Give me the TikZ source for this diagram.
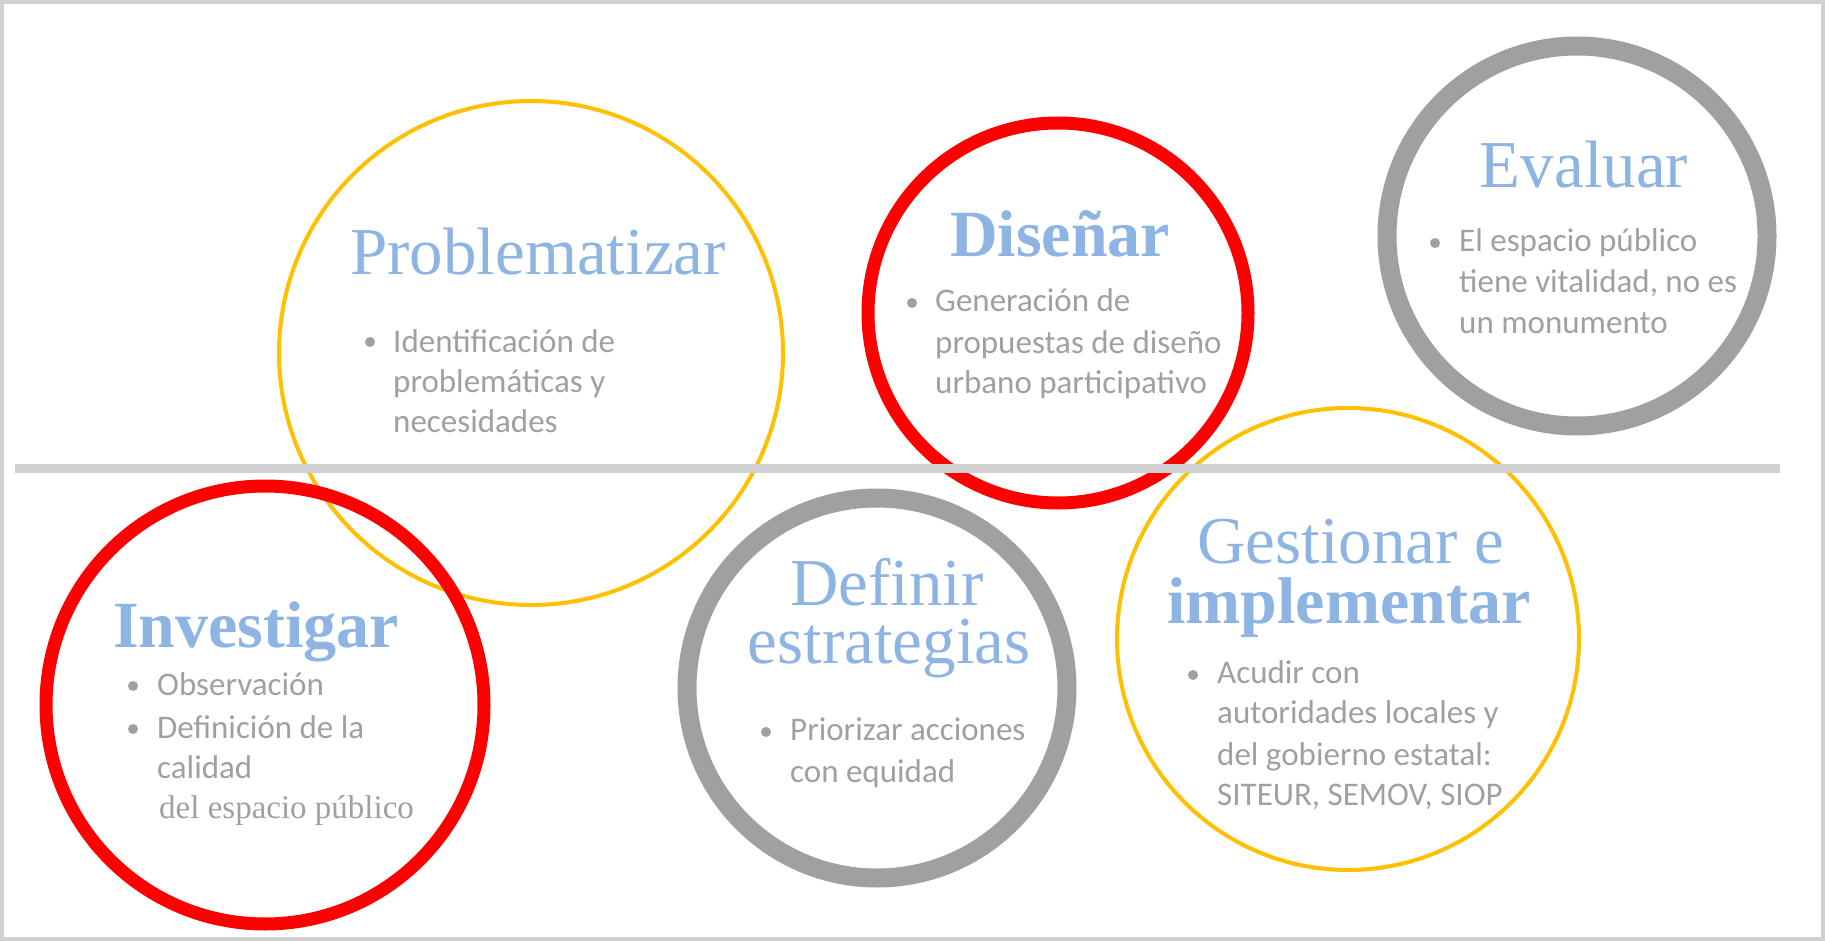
\documentclass[tikz,border=0pt]{standalone}
\usepackage{fontspec}
\setmainfont{Liberation Serif}
\newfontfamily\calfont{Carlito}
\definecolor{tblue}{HTML}{8EB4E3}
\definecolor{tgray}{HTML}{A0A0A0}
\definecolor{ringgray}{HTML}{A0A0A0}
\definecolor{lgray}{HTML}{D0D0D0}
\definecolor{ryellow}{HTML}{FFC000}
\definecolor{rred}{HTML}{FF0000}
\tikzset{
  ring/.style={circle, draw, inner sep=0pt, minimum size=#1},
  thinring/.style={ring=#1, draw=ryellow, line width=4pt},
  redring/.style={ring=#1, draw=rred, line width=13pt},
  grayring/.style={ring=#1, draw=ringgray, line width=19pt},
  ttl/.style={anchor=base, inner sep=0pt, text=tblue, font=\fontsize{67}{80}\selectfont},
  ttlb/.style={anchor=base, inner sep=0pt, text=tblue, font=\bfseries\fontsize{66}{80}\selectfont},
  itm/.style={anchor=base west, inner sep=0pt, text=tgray, font=\calfont\fontsize{33}{39}\selectfont},
  itmserif/.style={anchor=base west, inner sep=0pt, text=tgray, font=\fontsize{33}{39}\selectfont},
  dot/.style={circle, fill=tgray, inner sep=0pt, minimum size=10pt}
}
\begin{document}
\begin{tikzpicture}[x=1pt, y=-1pt]
\useasboundingbox (0,0) rectangle (1825,941);
\fill[white] (0,0) rectangle (1825,941);
\draw[lgray, line width=4pt] (2,2) rectangle (1823,939);

% rings
\node[thinring=504pt] (prob) at (531,353) {};
\node[redring=380pt] (dis) at (1058,313) {};
\node[grayring=380pt] (eva) at (1577,236) {};
\node[redring=438pt] (inv) at (265,705) {};
\node[grayring=380pt] (def) at (877,688) {};
\node[thinring=462pt] (ges) at (1348,639) {};

% divider line
\coordinate (lineL) at (15,468);
\coordinate (lineR) at (1780,468);
\draw[lgray, line width=9pt] (lineL) -- (lineR);

% Problematizar
\node[ttl] (probT) at (538,275) {Problematizar};
\node[dot] (probD) at (370,342) {};
\node[itm] (probA) at (393,352) {Identificación de};
\node[itm] (probB) at (393,392) {problemáticas y};
\node[itm] (probC) at (393,432) {necesidades};

% Diseñar
\node[ttlb] (disT) at (1060,257) {Diseñar};
\node[dot] (disD) at (912,303) {};
\node[itm] (disA) at (935,312) {Generación de};
\node[itm] (disB) at (935,353) {propuestas de diseño};
\node[itm] (disC) at (935,393) {urbano participativo};

% Evaluar
\node[ttl] (evaT) at (1584,188) {Evaluar};
\node[dot] (evaD) at (1435,243) {};
\node[itm] (evaA) at (1459,252) {El espacio público};
\node[itm] (evaB) at (1459,293) {tiene vitalidad, no es};
\node[itm] (evaC) at (1459,333) {un monumento};

% Investigar
\node[ttlb] (invT) at (256,647) {Investigar};
\node[dot] (invD1) at (133,686) {};
\node[itm] (invA) at (157,695) {Observación};
\node[dot] (invD2) at (133,729) {};
\node[itm] (invB) at (157,738) {Definición de la};
\node[itm] (invC) at (157,778) {calidad};
\node[itmserif] (invE) at (159,818) {del espacio público};

% Definir estrategias
\node[ttl] (defT1) at (887,605) {Definir};
\node[ttl] (defT2) at (889,663) {estrategias};
\node[dot] (defD) at (766,732) {};
\node[itm] (defA) at (790,740) {Priorizar acciones};
\node[itm] (defB) at (790,782) {con equidad};

% Gestionar e implementar
\node[ttl] (gesT1) at (1351,563) {Gestionar e};
\node[ttlb] (gesT2) at (1349,623) {implementar};
\node[dot] (gesD) at (1193,675) {};
\node[itm] (gesA) at (1217,683) {Acudir con};
\node[itm] (gesB) at (1217,723) {autoridades locales y};
\node[itm] (gesC) at (1217,765) {del gobierno estatal:};
\node[itm] (gesE) at (1217,805) {SITEUR, SEMOV, SIOP};
\end{tikzpicture}
\end{document}
